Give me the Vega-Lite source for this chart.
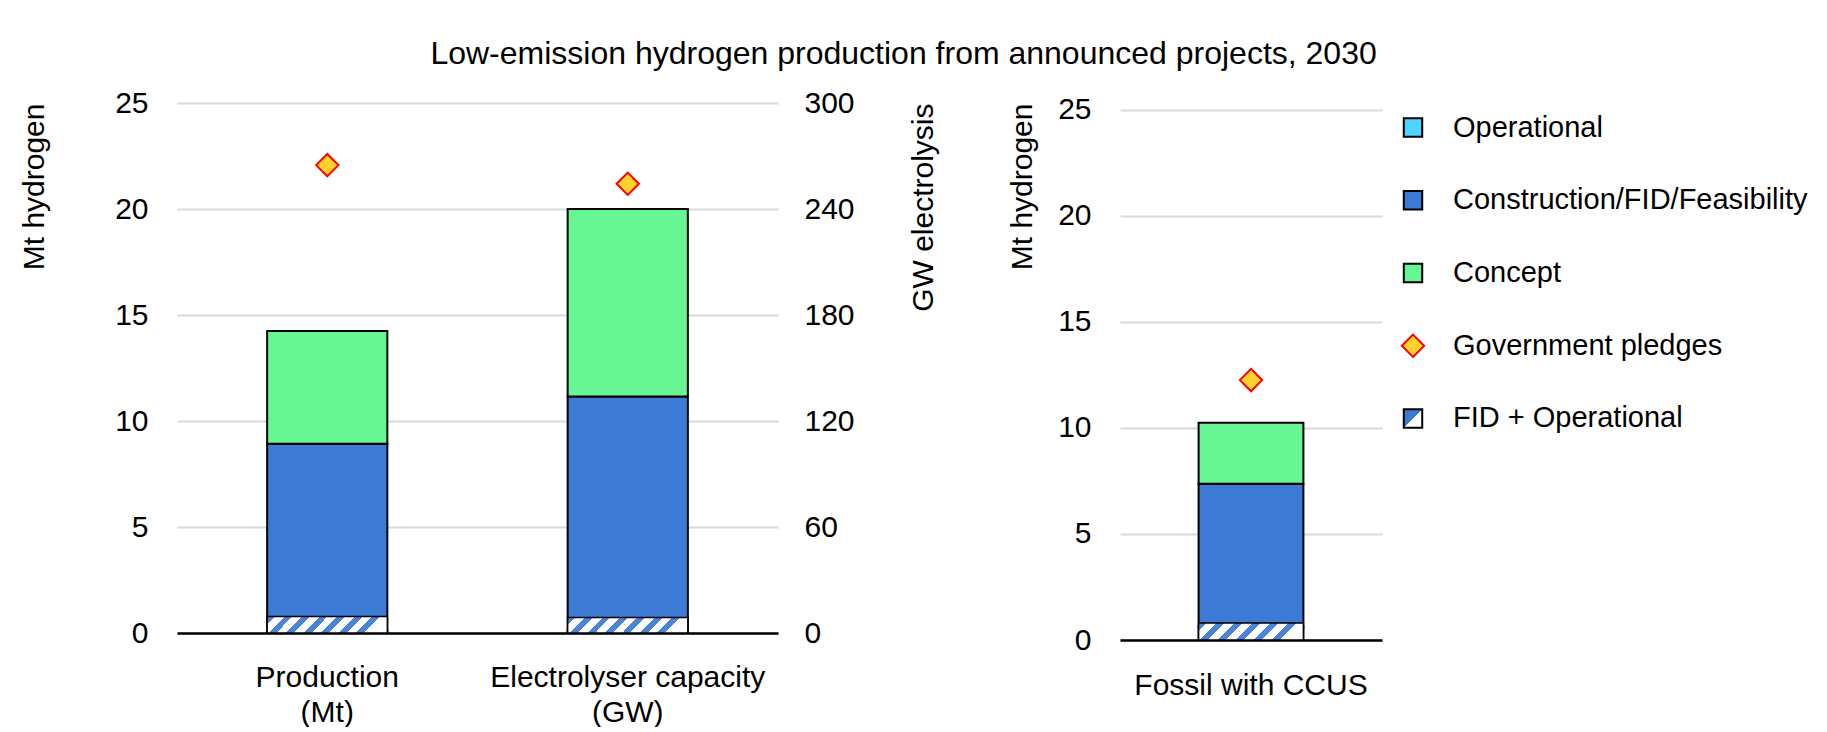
{
  "$schema": "https://vega.github.io/schema/vega-lite/v6.json",
  "background": "white",
  "padding": {"left": 19, "top": 38, "right": 0, "bottom": 0},
  "config": {
    "font": "Liberation Sans",
    "view": {"stroke": null},
    "axis": {
      "labelFont": "Liberation Sans",
      "titleFont": "Liberation Sans",
      "labelFontSize": 30,
      "titleFontSize": 30,
      "titleFontWeight": "normal",
      "labelColor": "#000000",
      "titleColor": "#000000",
      "labelLimit": 0,
      "ticks": false,
      "domain": false,
      "grid": false,
      "gridColor": "#D9D9D9",
      "gridWidth": 2
    }
  },
  "title": {
    "text": "Low-emission hydrogen production from announced projects, 2030",
    "font": "Liberation Sans",
    "fontSize": 32,
    "fontWeight": "normal",
    "color": "#000000",
    "anchor": "middle",
    "dx": -10,
    "offset": 17
  },
  "datasets": {
    "bars": [
      {"category": "Production (Mt)", "series": "Operational", "value": 0.1},
      {"category": "Production (Mt)", "series": "Construction/FID/Feasibility", "value": 8.83},
      {"category": "Production (Mt)", "series": "Concept", "value": 5.32},
      {"category": "Production (Mt)", "series": "FID + Operational", "value": 0.78},
      {"category": "Electrolyser capacity (GW)", "series": "Operational", "value": 1.0},
      {"category": "Electrolyser capacity (GW)", "series": "Construction/FID/Feasibility", "value": 132.8},
      {"category": "Electrolyser capacity (GW)", "series": "Concept", "value": 106.2},
      {"category": "Electrolyser capacity (GW)", "series": "FID + Operational", "value": 8.8},
      {"category": "Fossil with CCUS", "series": "Operational", "value": 0.6},
      {"category": "Fossil with CCUS", "series": "Construction/FID/Feasibility", "value": 6.77},
      {"category": "Fossil with CCUS", "series": "Concept", "value": 2.88},
      {"category": "Fossil with CCUS", "series": "FID + Operational", "value": 0.8}
    ],
    "pledges": [
      {"category": "Production (Mt)", "value": 22.07},
      {"category": "Electrolyser capacity (GW)", "value": 254.3},
      {"category": "Fossil with CCUS", "value": 12.26}
    ],
    "legend": [
      {"series": "Operational", "kind": "box"},
      {"series": "Construction/FID/Feasibility", "kind": "box"},
      {"series": "Concept", "kind": "box"},
      {"series": "Government pledges", "kind": "diamond"},
      {"series": "FID + Operational", "kind": "hatch"}
    ]
  },
  "hconcat": [
    {
      "hconcat": [
        {
          "width": 601,
          "height": 530,
          "encoding": {
            "x": {
              "field": "category",
              "type": "nominal",
              "sort": null,
              "scale": {"domain": ["Production (Mt)", "Electrolyser capacity (GW)"], "paddingInner": 0.6, "paddingOuter": 0.3},
              "axis": {
                "title": null,
                "labelAngle": 0,
                "domain": true,
                "domainColor": "#000000",
                "domainWidth": 2.5,
                "labelPadding": 29,
                "labelBaseline": "top",
                "labelLineHeight": 35,
                "labelExpr": "datum.label == 'Production (Mt)' ? ['Production', '(Mt)'] : ['Electrolyser capacity', '(GW)']"
              }
            }
          },
          "layer": [
            {
              "encoding": {
                "y": {
                  "field": "value",
                  "type": "quantitative",
                  "title": "Mt hydrogen",
                  "scale": {"domain": [0, 25], "nice": false},
                  "axis": {"orient": "left", "values": [0, 5, 10, 15, 20, 25], "grid": true, "labelPadding": 29, "titlePadding": 65, "titleAnchor": "end"}
                }
              },
              "layer": [
                {
                  "data": {"name": "bars"},
                  "transform": [{"filter": "datum.category === 'Production (Mt)' && datum.series !== 'FID + Operational'"}],
                  "mark": {"type": "bar", "stroke": "#000000", "strokeWidth": 2},
                  "encoding": {
                    "color": {"field": "series", "type": "nominal", "scale": {"domain": ["Operational", "Construction/FID/Feasibility", "Concept"], "range": ["#4FD4FF", "#3D7AD3", "#68F593"]}, "legend": null},
                    "order": {"field": "series", "sort": "descending"}
                  }
                },
                {
                  "data": {"name": "bars"},
                  "transform": [{"filter": "datum.category === 'Production (Mt)' && datum.series === 'FID + Operational'"}],
                  "mark": {
                    "type": "bar", "stroke": "#000000", "strokeWidth": 1.5,
                    "fill": {"gradient": "linear", "x1": 0, "y1": 0, "x2": 1, "y2": 0.137, "stops": [
                      {"offset": 0, "color": "#4A84D8"}, {"offset": 0.064, "color": "#4A84D8"}, {"offset": 0.064, "color": "#FFFFFF"}, {"offset": 0.143, "color": "#FFFFFF"},
                      {"offset": 0.143, "color": "#4A84D8"}, {"offset": 0.207, "color": "#4A84D8"}, {"offset": 0.207, "color": "#FFFFFF"}, {"offset": 0.286, "color": "#FFFFFF"},
                      {"offset": 0.286, "color": "#4A84D8"}, {"offset": 0.35, "color": "#4A84D8"}, {"offset": 0.35, "color": "#FFFFFF"}, {"offset": 0.429, "color": "#FFFFFF"},
                      {"offset": 0.429, "color": "#4A84D8"}, {"offset": 0.493, "color": "#4A84D8"}, {"offset": 0.493, "color": "#FFFFFF"}, {"offset": 0.571, "color": "#FFFFFF"},
                      {"offset": 0.571, "color": "#4A84D8"}, {"offset": 0.636, "color": "#4A84D8"}, {"offset": 0.636, "color": "#FFFFFF"}, {"offset": 0.714, "color": "#FFFFFF"},
                      {"offset": 0.714, "color": "#4A84D8"}, {"offset": 0.779, "color": "#4A84D8"}, {"offset": 0.779, "color": "#FFFFFF"}, {"offset": 0.857, "color": "#FFFFFF"},
                      {"offset": 0.857, "color": "#4A84D8"}, {"offset": 0.921, "color": "#4A84D8"}, {"offset": 0.921, "color": "#FFFFFF"}, {"offset": 1, "color": "#FFFFFF"}
                    ]}
                  }
                },
                {
                  "data": {"name": "pledges"},
                  "transform": [{"filter": "datum.category === 'Production (Mt)'"}],
                  "mark": {"type": "point", "shape": "diamond", "filled": true, "fill": "#FFD22F", "stroke": "#FF0000", "strokeWidth": 2, "size": 500, "opacity": 1}
                }
              ]
            },
            {
              "encoding": {
                "y": {
                  "field": "value",
                  "type": "quantitative",
                  "title": "GW electrolysis",
                  "scale": {"domain": [0, 300], "nice": false},
                  "axis": {"orient": "right", "values": [0, 60, 120, 180, 240, 300], "grid": false, "labelPadding": 26, "titlePadding": 54, "titleAnchor": "end", "titleAngle": 270, "titleBaseline": "top"}
                }
              },
              "layer": [
                {
                  "data": {"name": "bars"},
                  "transform": [{"filter": "datum.category === 'Electrolyser capacity (GW)' && datum.series !== 'FID + Operational'"}],
                  "mark": {"type": "bar", "stroke": "#000000", "strokeWidth": 2},
                  "encoding": {
                    "color": {"field": "series", "type": "nominal", "scale": {"domain": ["Operational", "Construction/FID/Feasibility", "Concept"], "range": ["#4FD4FF", "#3D7AD3", "#68F593"]}, "legend": null},
                    "order": {"field": "series", "sort": "descending"}
                  }
                },
                {
                  "data": {"name": "bars"},
                  "transform": [{"filter": "datum.category === 'Electrolyser capacity (GW)' && datum.series === 'FID + Operational'"}],
                  "mark": {
                    "type": "bar", "stroke": "#000000", "strokeWidth": 1.5,
                    "fill": {"gradient": "linear", "x1": 0, "y1": 0, "x2": 1, "y2": 0.128, "stops": [
                      {"offset": 0, "color": "#4A84D8"}, {"offset": 0.064, "color": "#4A84D8"}, {"offset": 0.064, "color": "#FFFFFF"}, {"offset": 0.143, "color": "#FFFFFF"},
                      {"offset": 0.143, "color": "#4A84D8"}, {"offset": 0.207, "color": "#4A84D8"}, {"offset": 0.207, "color": "#FFFFFF"}, {"offset": 0.286, "color": "#FFFFFF"},
                      {"offset": 0.286, "color": "#4A84D8"}, {"offset": 0.35, "color": "#4A84D8"}, {"offset": 0.35, "color": "#FFFFFF"}, {"offset": 0.429, "color": "#FFFFFF"},
                      {"offset": 0.429, "color": "#4A84D8"}, {"offset": 0.493, "color": "#4A84D8"}, {"offset": 0.493, "color": "#FFFFFF"}, {"offset": 0.571, "color": "#FFFFFF"},
                      {"offset": 0.571, "color": "#4A84D8"}, {"offset": 0.636, "color": "#4A84D8"}, {"offset": 0.636, "color": "#FFFFFF"}, {"offset": 0.714, "color": "#FFFFFF"},
                      {"offset": 0.714, "color": "#4A84D8"}, {"offset": 0.779, "color": "#4A84D8"}, {"offset": 0.779, "color": "#FFFFFF"}, {"offset": 0.857, "color": "#FFFFFF"},
                      {"offset": 0.857, "color": "#4A84D8"}, {"offset": 0.921, "color": "#4A84D8"}, {"offset": 0.921, "color": "#FFFFFF"}, {"offset": 1, "color": "#FFFFFF"}
                    ]}
                  }
                },
                {
                  "data": {"name": "pledges"},
                  "transform": [{"filter": "datum.category === 'Electrolyser capacity (GW)'"}],
                  "mark": {"type": "point", "shape": "diamond", "filled": true, "fill": "#FFD22F", "stroke": "#FF0000", "strokeWidth": 2, "size": 500, "opacity": 1}
                }
              ]
            }
          ],
          "resolve": {"scale": {"y": "independent"}}
        },
        {
          "width": 262,
          "height": 537,
          "encoding": {
            "x": {
              "field": "category",
              "type": "nominal",
              "scale": {"domain": ["Fossil with CCUS"], "paddingInner": 0.6, "paddingOuter": 0.3},
              "axis": {"title": null, "labelAngle": 0, "domain": true, "domainColor": "#000000", "domainWidth": 2.5, "labelPadding": 30, "labelBaseline": "top"}
            },
            "y": {
              "field": "value",
              "type": "quantitative",
              "title": "Mt hydrogen",
              "scale": {"domain": [0, 25.33], "nice": false},
              "axis": {"orient": "left", "values": [0, 5, 10, 15, 20, 25], "grid": true, "labelPadding": 29, "titlePadding": 20, "titleAnchor": "end"}
            }
          },
          "layer": [
            {
              "data": {"name": "bars"},
              "transform": [{"filter": "datum.category === 'Fossil with CCUS' && datum.series !== 'FID + Operational'"}],
              "mark": {"type": "bar", "stroke": "#000000", "strokeWidth": 2},
              "encoding": {
                "color": {"field": "series", "type": "nominal", "scale": {"domain": ["Operational", "Construction/FID/Feasibility", "Concept"], "range": ["#4FD4FF", "#3D7AD3", "#68F593"]}, "legend": null},
                "order": {"field": "series", "sort": "descending"}
              }
            },
            {
              "data": {"name": "bars"},
              "transform": [{"filter": "datum.category === 'Fossil with CCUS' && datum.series === 'FID + Operational'"}],
              "mark": {
                "type": "bar", "stroke": "#000000", "strokeWidth": 1.5,
                "fill": {"gradient": "linear", "x1": 0, "y1": 0, "x2": 1, "y2": 0.162, "stops": [
                  {"offset": 0, "color": "#4A84D8"}, {"offset": 0.075, "color": "#4A84D8"}, {"offset": 0.075, "color": "#FFFFFF"}, {"offset": 0.167, "color": "#FFFFFF"},
                  {"offset": 0.167, "color": "#4A84D8"}, {"offset": 0.242, "color": "#4A84D8"}, {"offset": 0.242, "color": "#FFFFFF"}, {"offset": 0.333, "color": "#FFFFFF"},
                  {"offset": 0.333, "color": "#4A84D8"}, {"offset": 0.408, "color": "#4A84D8"}, {"offset": 0.408, "color": "#FFFFFF"}, {"offset": 0.5, "color": "#FFFFFF"},
                  {"offset": 0.5, "color": "#4A84D8"}, {"offset": 0.575, "color": "#4A84D8"}, {"offset": 0.575, "color": "#FFFFFF"}, {"offset": 0.667, "color": "#FFFFFF"},
                  {"offset": 0.667, "color": "#4A84D8"}, {"offset": 0.742, "color": "#4A84D8"}, {"offset": 0.742, "color": "#FFFFFF"}, {"offset": 0.833, "color": "#FFFFFF"},
                  {"offset": 0.833, "color": "#4A84D8"}, {"offset": 0.908, "color": "#4A84D8"}, {"offset": 0.908, "color": "#FFFFFF"}, {"offset": 1, "color": "#FFFFFF"}
                ]}
              }
            },
            {
              "data": {"name": "pledges"},
              "transform": [{"filter": "datum.category === 'Fossil with CCUS'"}],
              "mark": {"type": "point", "shape": "diamond", "filled": true, "fill": "#FFD22F", "stroke": "#FF0000", "strokeWidth": 2, "size": 500, "opacity": 1}
            }
          ]
        }
      ],
      "spacing": 68
    },
    {
      "width": 40,
      "height": 340,
      "data": {"name": "legend"},
      "encoding": {
        "y": {"field": "series", "type": "nominal", "scale": {"type": "point", "domain": ["Operational", "Construction/FID/Feasibility", "Concept", "Government pledges", "FID + Operational"], "padding": 0.337}, "axis": null}
      },
      "layer": [
        {
          "transform": [{"filter": "datum.kind === 'box'"}],
          "mark": {"type": "point", "shape": "square", "filled": true, "stroke": "#000000", "strokeWidth": 2, "size": 340, "opacity": 1},
          "encoding": {
            "color": {"field": "series", "type": "nominal", "scale": {"domain": ["Operational", "Construction/FID/Feasibility", "Concept"], "range": ["#4FD4FF", "#3D7AD3", "#68F593"]}, "legend": null}
          }
        },
        {
          "transform": [{"filter": "datum.kind === 'diamond'"}],
          "mark": {"type": "point", "shape": "diamond", "filled": true, "fill": "#FFD22F", "stroke": "#FF0000", "strokeWidth": 2, "size": 500, "opacity": 1}
        },
        {
          "transform": [{"filter": "datum.kind === 'hatch'"}],
          "mark": {
            "type": "point", "shape": "square", "filled": true, "stroke": "#000000", "strokeWidth": 2, "size": 340, "opacity": 1,
            "fill": {"gradient": "linear", "x1": 0, "y1": 0, "x2": 1, "y2": 1, "stops": [
              {"offset": 0, "color": "#3D7AD3"}, {"offset": 0.5, "color": "#3D7AD3"}, {"offset": 0.5, "color": "#FFFFFF"}, {"offset": 1, "color": "#FFFFFF"}
            ]}
          }
        },
        {
          "mark": {"type": "text", "align": "left", "baseline": "middle", "dx": 40, "fontSize": 29, "font": "Liberation Sans", "color": "#000000"},
          "encoding": {"text": {"field": "series"}}
        }
      ]
    }
  ],
  "spacing": 11
}
